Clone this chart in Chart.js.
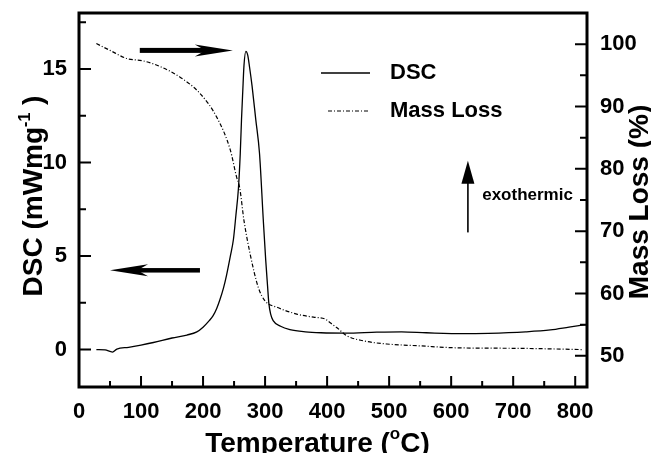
<!DOCTYPE html>
<html>
<head>
<meta charset="utf-8">
<script src="https://cdn.jsdelivr.net/npm/chart.js@4.4.1/dist/chart.umd.min.js"></script>
<style>
  html, body { margin: 0; padding: 0; background: #fff; }
  canvas { display: block; }
</style>
</head>
<body>
<canvas id="dscChart" width="651" height="453"></canvas>
<script>
// Data
const dscTemp = [28, 42, 54, 61, 80, 100, 120, 150, 174, 190, 200, 210, 216, 222, 227, 233, 238, 244, 249, 253, 257, 260, 262, 264, 266, 269, 272, 275, 279, 285, 291, 297, 301, 304, 306, 309, 313, 325, 340, 365, 390, 430, 480, 520, 560, 620, 660, 720, 760, 790, 820];
const dscValue = [0.0, -0.02, -0.13, 0.03, 0.12, 0.24, 0.38, 0.62, 0.78, 0.95, 1.2, 1.55, 1.8, 2.2, 2.65, 3.3, 4.0, 5.0, 5.9, 7.2, 8.6, 10.5, 12.3, 13.8, 15.2, 15.95, 15.75, 15.1, 14.1, 12.3, 10.5, 7.0, 4.8, 3.4, 2.5, 1.9, 1.55, 1.25, 1.07, 0.95, 0.9, 0.88, 0.93, 0.95, 0.9, 0.85, 0.87, 0.95, 1.05, 1.2, 1.35];

const massTemp = [28, 50, 77, 104, 131, 163, 195, 222, 244, 254, 259, 266, 276, 289, 300, 319, 351, 378, 397, 405, 416, 432, 459, 496, 550, 604, 711, 813];
const massValue = [100.1, 99.0, 97.7, 97.3, 96.4, 94.7, 92.1, 88.3, 83.0, 78.7, 77.0, 71.7, 66.3, 61.0, 58.8, 57.8, 56.7, 56.2, 55.9, 55.3, 54.5, 53.2, 52.4, 51.9, 51.6, 51.3, 51.2, 51.0];

const tempTicks = [0, 100, 200, 300, 400, 500, 600, 700, 800];
const dscTicks = [0, 5, 10, 15];
const massTicks = [50, 60, 70, 80, 90, 100];

const seriesNames = ['DSC', 'Mass Loss'];

const FONT = '"Liberation Sans", Arial, Helvetica, sans-serif';
const tickFont = { family: FONT, size: 22, weight: 'bold' };

function fixWidth(w) {
    return scale => {
        scale.width = w;
        scale.paddingTop = 0; scale.paddingBottom = 0;
        scale.paddingLeft = 0; scale.paddingRight = 0;
    };
}

function drawArrow(ctx, x1, y1, x2, y2, shaft, headLen, headHalf, notch) {
    const ang = Math.atan2(y2 - y1, x2 - x1);
    const len = Math.hypot(x2 - x1, y2 - y1);
    ctx.save();
    ctx.translate(x1, y1);
    ctx.rotate(ang);
    ctx.fillStyle = '#000';
    ctx.fillRect(0, -shaft / 2, len - headLen * 0.6, shaft);
    ctx.beginPath();
    ctx.moveTo(len, 0);
    ctx.lineTo(len - headLen, -headHalf);
    ctx.lineTo(len - headLen * notch, 0);
    ctx.lineTo(len - headLen, headHalf);
    ctx.closePath();
    ctx.fill();
    ctx.restore();
}

// text with one raised small piece, centred on (0,0) of current transform
function drawSupText(ctx, before, sup, after, size, supSize, rise) {
    ctx.font = `bold ${size}px ${FONT}`;
    const w1 = ctx.measureText(before).width;
    const w3 = ctx.measureText(after).width;
    ctx.font = `bold ${supSize}px ${FONT}`;
    const w2 = ctx.measureText(sup).width;
    let x = -(w1 + w2 + w3) / 2;
    ctx.textAlign = 'left';
    ctx.textBaseline = 'alphabetic';
    ctx.font = `bold ${size}px ${FONT}`;
    ctx.fillText(before, x, 0);
    x += w1;
    ctx.font = `bold ${supSize}px ${FONT}`;
    ctx.fillText(sup, x, -rise);
    x += w2;
    ctx.font = `bold ${size}px ${FONT}`;
    ctx.fillText(after, x, 0);
}

const decorPlugin = {
    id: 'decor',
    afterDraw(chart) {
        const ctx = chart.ctx;
        const a = chart.chartArea;
        const sx = chart.scales.x, sy = chart.scales.y, sy2 = chart.scales.y2;
        ctx.save();

        // frame
        ctx.strokeStyle = '#000';
        ctx.lineWidth = 3;
        ctx.strokeRect(a.left, a.top, a.right - a.left, a.bottom - a.top);

        // inward ticks
        ctx.lineWidth = 2;
        ctx.beginPath();
        for (let v = 50; v < sx.max; v += 50) {
            const px = sx.getPixelForValue(v);
            const len = v % 100 === 0 ? 11 : 6;
            ctx.moveTo(px, a.bottom); ctx.lineTo(px, a.bottom - len);
        }
        for (let v = 0; v < sy.max; v += 2.5) {
            const py = sy.getPixelForValue(v);
            const len = v % 5 === 0 ? 12 : 7;
            ctx.moveTo(a.left, py); ctx.lineTo(a.left + len, py);
        }
        for (let v = 50; v < sy2.max; v += 5) {
            const py = sy2.getPixelForValue(v);
            const len = v % 10 === 0 ? 12 : 7;
            ctx.moveTo(a.right, py); ctx.lineTo(a.right - len, py);
        }
        ctx.stroke();

        // legend
        const dsA = chart.data.datasets;
        const legY = [73, 111];
        dsA.forEach((ds, i) => {
            ctx.strokeStyle = ds.borderColor;
            ctx.lineWidth = ds.borderWidth;
            ctx.setLineDash(ds.borderDash || []);
            ctx.beginPath();
            ctx.moveTo(i === 0 ? 321 : 328, legY[i]);
            ctx.lineTo(370, legY[i]);
            ctx.stroke();
            ctx.setLineDash([]);
            ctx.fillStyle = '#000';
            ctx.font = `bold 22px ${FONT}`;
            ctx.textAlign = 'left';
            ctx.textBaseline = 'middle';
            ctx.fillText(seriesNames[i], 390, legY[i]);
        });

        // arrows (in data units)
        drawArrow(ctx, sx.getPixelForValue(98), sy.getPixelForValue(16.0),
                  sx.getPixelForValue(248), sy.getPixelForValue(16.0), 5, 38, 6, 0.72);
        drawArrow(ctx, sx.getPixelForValue(195), sy.getPixelForValue(4.24),
                  sx.getPixelForValue(50), sy.getPixelForValue(4.24), 4.5, 38, 6, 0.72);
        drawArrow(ctx, sx.getPixelForValue(627), sy2.getPixelForValue(69.8),
                  sx.getPixelForValue(627), sy2.getPixelForValue(81.3), 1.6, 23, 6.5, 1);

        ctx.fillStyle = '#000';
        ctx.font = `bold 17px ${FONT}`;
        ctx.textAlign = 'left';
        ctx.textBaseline = 'middle';
        ctx.fillText('exothermic', sx.getPixelForValue(650), sy2.getPixelForValue(75.7));

        // axis titles
        ctx.save();
        ctx.translate(317.5, 451.5);
        drawSupText(ctx, 'Temperature (', 'o', 'C)', 28, 17, 13);
        ctx.restore();

        ctx.save();
        ctx.translate(42, 196);
        ctx.rotate(-Math.PI / 2);
        drawSupText(ctx, 'DSC (mWmg', '-1', ' )', 28, 16, 12);
        ctx.restore();

        ctx.save();
        ctx.translate(648, 202);
        ctx.rotate(-Math.PI / 2);
        drawSupText(ctx, 'Mass Loss (%)', '', '', 28, 16, 0);
        ctx.restore();

        ctx.restore();
    }
};

const ctx = document.getElementById('dscChart').getContext('2d');
const chart = new Chart(ctx, {
    type: 'line',
    data: {
        datasets: [
            {
                label: seriesNames[0],
                data: dscTemp.map((t, i) => ({ x: t, y: dscValue[i] })),
                yAxisID: 'y',
                borderColor: '#000',
                borderWidth: 1.3,
                pointRadius: 0,
                cubicInterpolationMode: 'monotone',
                fill: false
            },
            {
                label: seriesNames[1],
                data: massTemp.map((t, i) => ({ x: t, y: massValue[i] })),
                yAxisID: 'y2',
                borderColor: '#000',
                borderWidth: 1.2,
                borderDash: [4, 2, 1, 2],
                pointRadius: 0,
                cubicInterpolationMode: 'monotone',
                fill: false
            }
        ]
    },
    options: {
        responsive: false,
        animation: false,
        layout: { padding: { top: 13, right: 0, left: 0, bottom: 0 } },
        plugins: { legend: { display: false }, tooltip: { enabled: false } },
        scales: {
            x: {
                type: 'linear', min: 0, max: 819,
                grid: { display: false, drawTicks: false }, border: { display: false },
                ticks: { font: tickFont, color: '#000', padding: 12, autoSkip: false, maxRotation: 0 },
                afterBuildTicks: s => { s.ticks = tempTicks.map(v => ({ value: v })); },
                afterFit: s => {
                    s.height = 66;
                    s.paddingLeft = 0; s.paddingRight = 0;
                }
            },
            y: {
                position: 'left', min: -2, max: 18,
                grid: { display: false, drawTicks: false }, border: { display: false },
                ticks: { font: tickFont, color: '#000', padding: 12 },
                afterBuildTicks: s => { s.ticks = dscTicks.map(v => ({ value: v })); },
                afterFit: fixWidth(79)
            },
            y2: {
                position: 'right', min: 45, max: 105,
                grid: { display: false, drawTicks: false }, border: { display: false },
                ticks: { font: tickFont, color: '#000', padding: 13 },
                afterBuildTicks: s => { s.ticks = massTicks.map(v => ({ value: v })); },
                afterFit: fixWidth(64)
            }
        }
    },
    plugins: [decorPlugin]
});
</script>
</body>
</html>
